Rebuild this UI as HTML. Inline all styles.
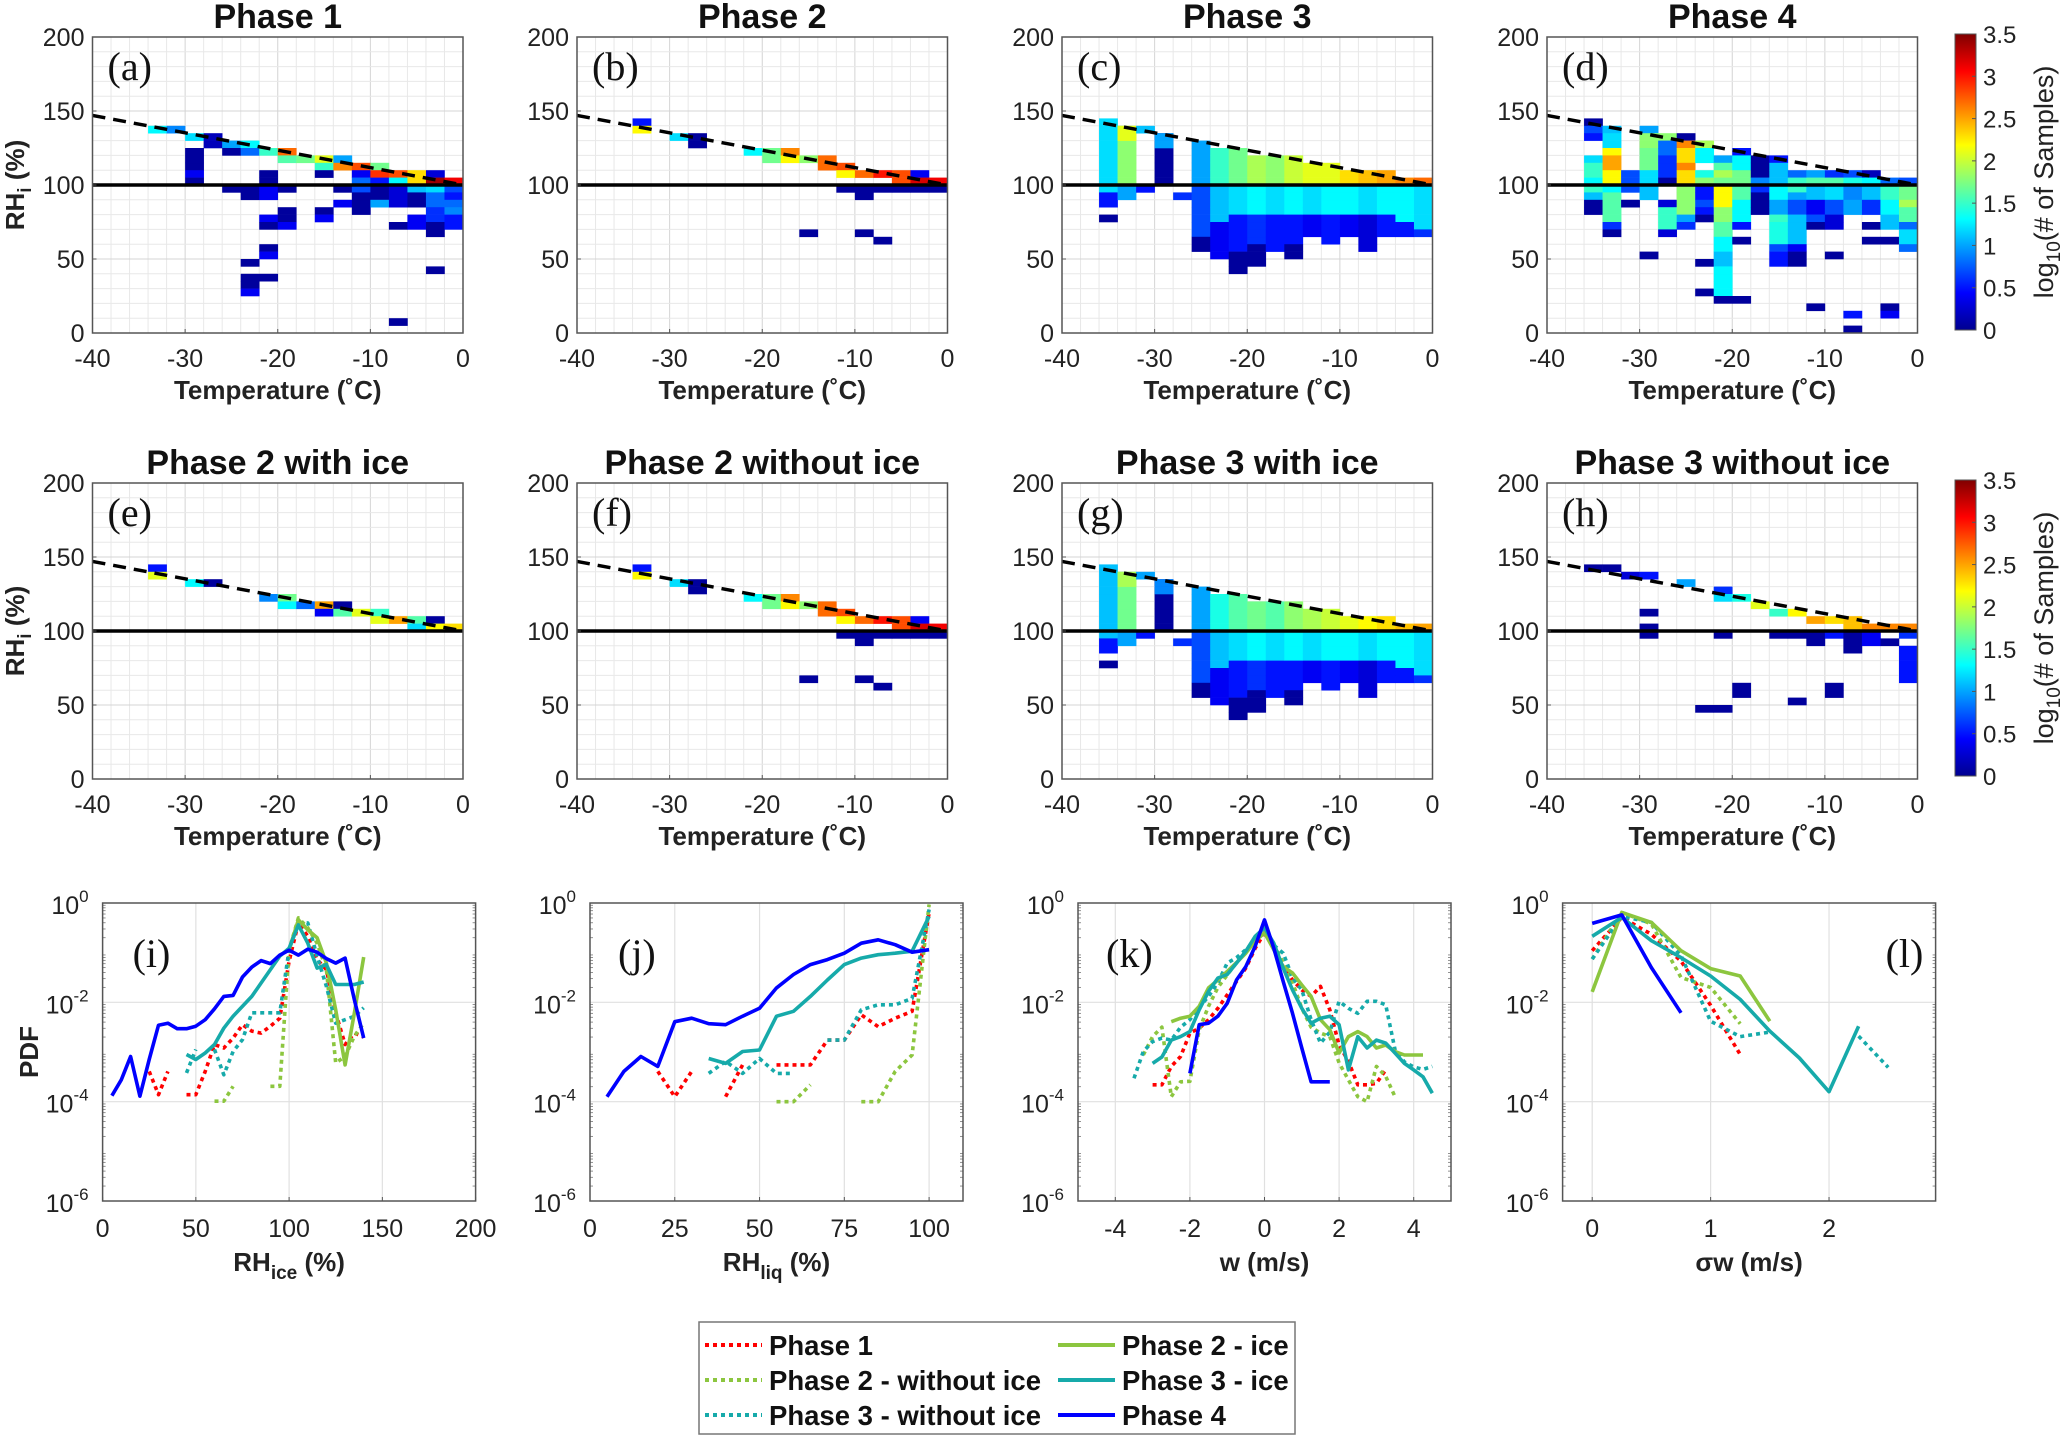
<!DOCTYPE html>
<html><head><meta charset="utf-8"><style>
html,body{margin:0;padding:0;background:#fff}
svg text{font-family:"Liberation Sans",Arial,sans-serif}
</style></head><body>
<svg id="fig" xmlns="http://www.w3.org/2000/svg" width="2067" height="1436" viewBox="0 0 2067 1436">
<defs>
<linearGradient id="jet" x1="0" y1="1" x2="0" y2="0">
<stop offset="0" stop-color="#00008f"/><stop offset="0.125" stop-color="#0000ff"/><stop offset="0.375" stop-color="#00ffff"/><stop offset="0.625" stop-color="#ffff00"/><stop offset="0.875" stop-color="#ff0000"/><stop offset="1" stop-color="#800000"/>
</linearGradient>
</defs>
</svg>
<script>
// ---- Heatmap data: runs [T_left(°C), RH_low, RH_high, log10 count] ----
const heatA=[[-34,135,140,1.3],[-32,135,140,0.9],[-30,130,135,1.2],[-30,110,125,0.1],[-30,105,110,0.4],[-30,100,105,0.1],[-28,125,135,0.2],[-26,125,130,1.0],[-26,120,125,0.1],[-26,95,100,0.1],[-24,125,130,1.3],[-24,120,125,0.8],[-24,90,100,0.1],[-24,45,50,0.1],[-24,30,40,0.1],[-24,25,30,0.4],[-22,120,125,1.5],[-22,100,110,0.1],[-22,90,100,0.4],[-22,75,80,0.4],[-22,70,75,0.1],[-22,55,60,0.1],[-22,50,55,0.4],[-22,35,40,0.1],[-20,120,125,2.7],[-20,115,120,1.6],[-20,95,100,0.1],[-20,75,85,0.1],[-20,70,75,0.4],[-18,115,120,1.7],[-16,115,120,2.1],[-16,110,115,1.5],[-16,105,110,0.1],[-16,80,85,0.1],[-16,75,80,0.4],[-14,115,120,1.0],[-14,110,115,2.6],[-14,95,100,0.1],[-14,85,90,0.4],[-12,110,115,2.8],[-12,105,110,0.4],[-12,100,105,0.8],[-12,95,100,0.7],[-12,80,95,0.1],[-10,110,115,1.7],[-10,105,110,2.9],[-10,100,105,0.5],[-10,90,100,0.1],[-10,85,90,1.0],[-8,105,110,2.8],[-8,100,105,1.3],[-8,85,100,0.3],[-8,70,75,0.1],[-8,5,10,0.1],[-6,100,110,2.3],[-6,95,100,1.1],[-6,85,95,0.1],[-6,70,80,0.4],[-4,105,110,0.3],[-4,100,105,3.4],[-4,95,100,1.2],[-4,85,95,0.8],[-4,75,85,0.6],[-4,65,75,0.1],[-4,40,45,0.1],[-2,100,105,3.1],[-2,95,100,0.7],[-2,90,95,0.5],[-2,85,90,0.8],[-2,80,85,0.9],[-2,70,80,0.5]];
const heatB=[[-34,140,145,0.5],[-34,135,140,2.2],[-30,130,135,1.2],[-28,130,135,0.1],[-28,125,130,0.1],[-22,120,125,1.3],[-20,115,125,1.7],[-18,120,125,2.6],[-18,115,120,2.2],[-16,115,120,1.8],[-16,65,70,0.1],[-14,110,120,2.7],[-12,110,115,2.8],[-12,105,110,2.2],[-12,95,100,0.1],[-10,105,110,2.7],[-10,90,100,0.1],[-10,65,70,0.1],[-8,105,110,3.0],[-8,95,100,0.1],[-8,60,65,0.1],[-6,100,110,2.8],[-6,95,100,0.1],[-4,105,110,0.4],[-4,100,105,3.2],[-4,95,100,0.1],[-2,100,105,3.1],[-2,95,100,0.1]];
const heatC=[[-36,95,145,1.2],[-36,85,95,0.5],[-36,75,80,0.1],[-34,90,100,1.0],[-34,100,140,1.8],[-34,130,140,2.1],[-32,135,140,1.1],[-32,95,100,0.5],[-30,100,135,0.1],[-30,125,135,1.0],[-28,90,95,0.6],[-26,100,130,1.0],[-26,65,100,0.7],[-26,55,65,0.1],[-24,100,125,1.5],[-24,75,100,1.1],[-24,50,75,0.4],[-22,100,125,1.7],[-22,80,100,1.2],[-22,55,80,0.5],[-22,40,55,0.1],[-20,100,120,1.9],[-20,80,100,1.3],[-20,60,80,0.6],[-20,45,60,0.1],[-18,100,120,1.8],[-18,80,100,1.2],[-18,55,80,0.5],[-16,100,120,2.0],[-16,80,100,1.3],[-16,60,80,0.5],[-16,50,60,0.1],[-14,100,115,2.1],[-14,80,100,1.2],[-14,65,80,0.4],[-12,100,115,2.1],[-12,80,100,1.3],[-12,60,80,0.5],[-10,100,110,2.3],[-10,80,100,1.3],[-10,65,80,0.4],[-8,100,110,2.4],[-8,80,100,1.2],[-8,55,80,0.3],[-6,100,110,2.5],[-6,80,100,1.3],[-6,65,80,0.5],[-4,100,105,2.6],[-4,75,100,1.3],[-4,65,75,0.5],[-2,100,105,2.7],[-2,70,100,1.2],[-2,65,70,0.6]];
const heatD=[[-36,140,145,0.1],[-36,135,140,0.7],[-36,130,135,0.5],[-36,115,120,1.2],[-36,105,115,1.5],[-36,100,105,1.3],[-36,95,100,1.5],[-36,90,95,1.1],[-36,80,90,0.1],[-34,135,140,1.1],[-34,125,135,1.2],[-34,120,125,2.2],[-34,110,120,2.5],[-34,100,110,2.2],[-34,95,100,1.3],[-34,75,95,1.6],[-34,70,75,0.6],[-34,65,70,0.1],[-32,95,110,0.7],[-32,85,90,0.1],[-30,135,140,1.0],[-30,125,135,1.8],[-30,110,125,1.7],[-30,100,110,1.2],[-30,90,100,1.1],[-30,50,55,0.1],[-28,130,135,1.8],[-28,120,130,0.8],[-28,105,120,0.6],[-28,100,105,0.1],[-28,85,90,0.3],[-28,70,85,1.5],[-28,65,70,0.3],[-26,130,135,0.1],[-26,125,130,2.6],[-26,115,125,2.3],[-26,110,115,2.6],[-26,100,110,2.3],[-26,80,100,1.8],[-26,75,80,1.0],[-26,70,75,0.6],[-24,125,130,1.9],[-24,115,125,1.3],[-24,105,110,1.4],[-24,100,105,1.8],[-24,90,100,0.5],[-24,85,90,0.7],[-24,80,85,0.5],[-24,75,80,0.1],[-24,45,50,0.1],[-24,25,30,0.1],[-22,115,120,1.0],[-22,110,115,1.6],[-22,105,110,1.9],[-22,100,105,1.7],[-22,85,100,2.2],[-22,75,85,1.8],[-22,65,75,1.6],[-22,55,65,1.3],[-22,45,55,1.1],[-22,25,45,1.3],[-22,20,25,0.1],[-20,120,125,0.5],[-20,110,120,1.3],[-20,100,110,1.7],[-20,90,100,1.6],[-20,75,90,1.3],[-20,70,75,0.5],[-20,60,65,0.1],[-20,20,25,0.1],[-18,105,120,0.1],[-18,100,105,0.9],[-18,95,100,0.6],[-18,80,95,0.1],[-16,115,120,0.5],[-16,100,115,1.1],[-16,90,100,1.3],[-16,80,90,1.0],[-16,75,80,1.5],[-16,60,75,1.4],[-16,55,60,0.7],[-16,45,55,0.5],[-14,105,110,0.8],[-14,95,105,1.5],[-14,90,95,1.0],[-14,80,90,0.7],[-14,60,80,1.1],[-14,55,60,0.4],[-14,45,55,0.1],[-12,105,110,1.0],[-12,100,105,1.6],[-12,90,100,1.1],[-12,80,90,0.4],[-12,75,80,0.7],[-12,70,75,0.1],[-12,15,20,0.1],[-10,105,110,0.6],[-10,100,105,1.6],[-10,90,100,1.2],[-10,80,90,0.7],[-10,70,80,0.3],[-10,50,55,0.1],[-8,105,110,0.7],[-8,100,105,1.4],[-8,90,100,0.9],[-8,80,90,1.0],[-8,10,15,0.5],[-8,0,5,0.1],[-6,105,110,0.2],[-6,100,105,1.3],[-6,90,100,1.1],[-6,80,90,0.6],[-6,70,75,0.1],[-6,60,65,0.1],[-4,100,105,0.8],[-4,90,100,1.5],[-4,80,90,1.3],[-4,70,80,1.1],[-4,60,65,0.1],[-4,15,20,0.1],[-4,10,15,0.4],[-2,100,105,0.7],[-2,90,100,1.7],[-2,85,90,1.9],[-2,75,85,1.6],[-2,70,75,0.8],[-2,60,70,1.2],[-2,55,60,0.8]];
const heatE=[[-34,140,145,0.5],[-34,135,140,2.1],[-30,130,135,1.3],[-28,130,135,0.1],[-22,120,125,0.9],[-20,120,125,1.7],[-20,115,120,1.3],[-18,115,120,0.8],[-16,115,120,2.5],[-16,110,115,0.4],[-14,115,120,0.1],[-14,110,115,1.6],[-12,110,115,2.1],[-10,110,115,1.5],[-10,105,110,2.1],[-8,105,110,2.5],[-6,105,110,1.6],[-6,100,105,1.2],[-4,105,110,0.1],[-4,100,105,2.2],[-2,100,105,2.3]];
const heatF=[[-34,140,145,0.5],[-34,135,140,2.2],[-30,130,135,1.2],[-28,130,135,0.1],[-28,125,130,0.1],[-22,120,125,1.3],[-20,115,125,1.7],[-18,120,125,2.6],[-18,115,120,2.2],[-16,115,120,1.8],[-16,65,70,0.1],[-14,110,120,2.7],[-12,110,115,2.8],[-12,105,110,2.2],[-12,95,100,0.1],[-10,105,110,2.7],[-10,90,100,0.1],[-10,65,70,0.1],[-8,105,110,3.0],[-8,95,100,0.1],[-8,60,65,0.1],[-6,100,110,2.8],[-6,95,100,0.1],[-4,105,110,0.4],[-4,100,105,3.2],[-4,95,100,0.1],[-2,100,105,3.1],[-2,95,100,0.1]];
const heatG=[[-36,95,145,1.1],[-36,85,95,0.5],[-36,75,80,0.1],[-34,90,100,1.0],[-34,100,140,1.7],[-34,130,140,1.9],[-32,135,140,1.0],[-32,95,100,0.5],[-30,100,135,0.1],[-30,125,135,0.9],[-28,90,95,0.6],[-26,100,130,1.0],[-26,65,100,0.7],[-26,55,65,0.1],[-24,100,125,1.4],[-24,75,100,1.1],[-24,50,75,0.4],[-22,100,125,1.6],[-22,80,100,1.2],[-22,55,80,0.5],[-22,40,55,0.1],[-20,100,120,1.7],[-20,80,100,1.3],[-20,60,80,0.6],[-20,45,60,0.1],[-18,100,120,1.6],[-18,80,100,1.2],[-18,55,80,0.5],[-16,100,120,1.8],[-16,80,100,1.3],[-16,60,80,0.5],[-16,50,60,0.1],[-14,100,115,1.9],[-14,80,100,1.2],[-14,65,80,0.4],[-12,100,115,2.0],[-12,80,100,1.3],[-12,60,80,0.5],[-10,100,110,2.1],[-10,80,100,1.3],[-10,65,80,0.4],[-8,100,110,2.2],[-8,80,100,1.2],[-8,55,80,0.3],[-6,100,110,2.3],[-6,80,100,1.3],[-6,65,80,0.5],[-4,100,105,2.4],[-4,75,100,1.3],[-4,65,75,0.5],[-2,100,105,2.5],[-2,70,100,1.2],[-2,65,70,0.6]];
const heatH=[[-36,140,145,0.1],[-34,140,145,0.1],[-32,135,140,0.3],[-30,135,140,0.5],[-30,110,115,0.1],[-30,100,105,0.1],[-30,95,100,0.1],[-26,130,135,1.0],[-22,125,130,0.6],[-22,120,125,1.2],[-22,95,100,0.1],[-24,45,50,0.1],[-22,45,50,0.1],[-20,120,125,1.4],[-20,55,65,0.1],[-18,115,120,2.1],[-16,110,115,1.5],[-16,95,100,0.1],[-14,110,115,2.2],[-14,95,100,0.1],[-14,50,55,0.1],[-12,105,110,2.5],[-12,90,100,0.1],[-10,105,110,2.3],[-10,95,100,0.5],[-10,55,65,0.1],[-8,100,110,2.4],[-8,85,100,0.1],[-6,100,105,2.6],[-6,90,100,0.4],[-4,100,105,2.6],[-4,90,95,0.1],[-2,100,105,2.6],[-2,95,100,0.6],[-2,65,90,0.5]];
const heatTitles=["Phase 1","Phase 2","Phase 3","Phase 4","Phase 2 with ice","Phase 2 without ice","Phase 3 with ice","Phase 3 without ice"];
const heatLetters=["(a)","(b)","(c)","(d)","(e)","(f)","(g)","(h)"];
const heatXTicks=[-40,-30,-20,-10,0];
const heatYTicks=[0,50,100,150,200];
const cbTicks=[0,0.5,1,1.5,2,2.5,3,3.5];

// ---- PDF data (log10 PDF; null = gap) ----
const iX=[5,10,15,20,25,30,35,40,45,50,55,60,65,70,75,80,85,90,95,100,105,110,115,120,125,130,135,140];
const iP4=[-3.88,-3.56,-3.09,-3.89,-3.15,-2.46,-2.42,-2.53,-2.53,-2.48,-2.35,-2.13,-1.88,-1.86,-1.49,-1.29,-1.16,-1.22,-1.05,-0.95,-1.05,-0.93,-0.99,-1.12,-1.21,-1.11,-1.95,-2.72];
const iP3ice=[null,null,null,null,null,null,null,null,-3.05,-3.15,-3.02,-2.85,-2.52,-2.28,-2.08,-1.88,-1.61,-1.34,-1.07,-0.91,-0.44,-0.81,-1.31,-1.24,-1.64,-1.64,-1.64,-1.59];
const iP2ice=[null,null,null,null,null,null,null,null,null,null,null,null,null,null,null,null,null,null,null,-0.94,-0.34,-0.54,-0.70,-1.21,-2.15,-3.26,-2.21,-1.09];
const iP1=[null,null,null,null,-3.39,-3.86,-3.39,null,-3.86,-3.86,-3.39,-2.85,-2.92,-2.72,-2.45,-2.58,-2.62,-2.48,-2.32,-1.17,-0.40,-0.67,-1.14,-1.34,-2.21,-2.85,-2.62,-2.70];
const iP2no=[null,null,null,null,null,null,null,null,null,null,null,-3.99,-3.99,-3.69,null,null,null,-3.69,-3.69,-0.94,-0.30,-0.50,-0.81,-1.34,-3.22,-3.09,-2.68,-2.42];
const iP3no=[null,null,null,null,null,null,null,null,-3.42,-2.95,null,-2.95,-3.46,-2.99,-2.75,-2.21,-2.21,-2.21,-2.21,-0.94,-0.40,-0.40,-1.07,-1.68,-2.42,-2.35,-2.28,-2.11];
const jX=[5,10,15,20,25,30,35,40,45,50,55,60,65,70,75,80,85,90,95,100];
const jP4=[-3.9,-3.39,-3.09,-3.29,-2.39,-2.32,-2.43,-2.45,-2.28,-2.12,-1.71,-1.44,-1.24,-1.14,-1.01,-0.81,-0.74,-0.84,-0.99,-0.94];
const jP3ice=[null,null,null,null,null,null,-3.13,-3.23,-2.99,-2.96,-2.28,-2.18,-1.88,-1.55,-1.24,-1.11,-1.04,-1.01,-0.97,-0.27];
const jP2ice=[null,null,null,null,null,null,null,null,null,null,null,null,null,null,null,null,null,null,null,null];
const jP1=[null,null,null,-3.39,-3.9,-3.39,null,-3.9,-3.26,null,-3.26,-3.26,-3.26,-2.76,-2.76,-2.25,-2.49,-2.32,-2.18,-0.2];
const jP2no=[null,null,null,null,null,null,null,null,null,null,-4.0,-4.0,-3.66,null,null,-4.0,-4.0,-3.39,-3.06,-0.03];
const jP3no=[null,null,null,null,null,null,-3.43,-3.19,-3.43,-3.13,-3.43,-3.43,null,-2.76,-2.76,-2.15,-2.05,-2.05,-1.92,-0.13];
const kX=[-3.75,-3.5,-3.25,-3,-2.75,-2.5,-2.25,-2,-1.75,-1.5,-1.25,-1,-0.75,-0.5,-0.25,0,0.25,0.5,0.75,1,1.25,1.5,1.75,2,2.25,2.5,2.75,3,3.25,3.5,3.75,4,4.25,4.5];
const kP4=[null,null,null,null,null,null,null,-3.43,-2.45,-2.42,-2.28,-2.02,-1.55,-1.28,-0.87,-0.34,-0.91,-1.58,-2.22,-2.92,-3.6,-3.6,-3.6,null,null,null,null,null,null,null,null,null,null,null];
const kP3ice=[null,null,null,-3.23,-3.1,-2.76,-2.69,-2.59,-2.15,-1.78,-1.51,-1.44,-1.21,-0.97,-0.67,-0.50,-0.81,-1.31,-1.75,-2.12,-2.42,-2.32,-2.28,-2.45,-3.36,-2.69,-2.92,-2.76,-2.82,-3.02,-3.23,-3.36,-3.5,-3.83];
const kP2ice=[null,null,null,null,null,-2.39,-2.32,-2.28,-2.08,-1.71,-1.55,-1.38,-1.2,-1.01,-0.77,-0.6,-0.94,-1.28,-1.41,-1.65,-1.88,-2.35,-2.55,-3.02,-2.69,-2.59,-2.69,-2.92,-2.86,-2.99,-3.06,-3.06,-3.06,null];
const kP1=[null,null,null,-3.66,-3.66,-3.29,-3.09,-2.62,-2.52,-2.35,-2.12,-1.85,-1.58,-1.31,-0.91,-0.6,-0.91,-1.28,-1.55,-1.75,-1.88,-1.68,-2.15,-2.86,-3.19,-3.66,-3.66,-3.63,-3.36,null,null,null,null,null];
const kP2no=[-3.86,null,-3.06,-2.69,-2.5,-3.9,-3.6,-3.59,-2.55,-2.08,-1.7,-1.45,-1.2,-0.95,-0.75,-0.55,-0.85,-1.2,-1.6,-2.12,-2.5,-2.62,-2.69,-3.22,-3.56,-3.9,-4.0,-3.29,-3.49,-3.9,null,null,null,null];
const kP3no=[null,-3.53,-2.99,-2.79,-2.72,-2.76,-2.5,-2.35,-2.1,-1.88,-1.6,-1.21,-1.1,-0.94,-0.75,-0.47,-0.85,-1.01,-1.5,-1.75,-2.35,-2.82,-2.6,-1.98,-2.12,-2.22,-1.98,-1.98,-2.05,-2.95,-3.2,-3.3,-3.35,-3.29];
const lX=[0,0.25,0.5,0.75,1,1.25,1.5,1.75,2,2.25,2.5];
const lP4=[-0.41,-0.24,-1.30,-2.21,null,null,null,null,null,null,null];
const lP3ice=[-0.67,-0.29,-0.76,-1.10,-1.47,-1.94,-2.58,-3.12,-3.80,-2.48,null];
const lP2ice=[-1.79,-0.19,-0.39,-0.96,-1.32,-1.47,-2.38,null,null,null,null];
const lP1=[-0.96,-0.29,-0.63,-1.17,-2.06,-3.05,null,null,null,null,null];
const lP2no=[-1.13,-0.19,-0.42,-1.50,-1.70,-2.43,null,null,null,null,null];
const lP3no=[-1.13,-0.27,-0.39,-1.06,-2.38,-2.69,-2.60,null,null,-2.68,-3.31];

const NS="http://www.w3.org/2000/svg";
const svg=document.getElementById('fig');
function mk(tag,attrs,parent){const e=document.createElementNS(NS,tag);for(const k in attrs)e.setAttribute(k,attrs[k]);(parent||svg).appendChild(e);return e;}
function jet(v){let t=Math.max(0,Math.min(1,v/3.5));const f=x=>Math.max(0,Math.min(1,x));
 const r=f(Math.min(4*t-1.5,-4*t+4.5)),g=f(Math.min(4*t-0.5,-4*t+3.5)),b=f(Math.min(4*t+0.5,-4*t+2.5));
 return `rgb(${Math.round(r*255)},${Math.round(g*255)},${Math.round(b*255)})`;}

const heatLefts=[92.5,577,1062,1547], heatTops=[37,483], HW=370.5, HH=296;
const heatData=[heatA,heatB,heatC,heatD,heatE,heatF,heatG,heatH];
for(let p=0;p<8;p++){
 const L=heatLefts[p%4], T=heatTops[Math.floor(p/4)];
 const sx=t=>L+(t+40)/40*HW, sy=r=>T+HH-r/200*HH;
 const g=mk('g',{});
 
 
 for(let t=-38;t<0;t+=2){mk('line',{x1:sx(t),x2:sx(t),y1:T,y2:T+HH,stroke:t%10===0?'#d4d4d4':'#e8e8e8','stroke-width':1},g);}
 for(let r=10;r<200;r+=10){mk('line',{x1:L,x2:L+HW,y1:sy(r),y2:sy(r),stroke:r%50===0?'#d4d4d4':'#e8e8e8','stroke-width':1},g);}
 for(const c of heatData[p]){
  for(let r=c[1];r<c[2];r+=5){
   const rc=mk('rect',{x:sx(c[0]),y:sy(r+5),width:sx(c[0]+2)-sx(c[0])+0.3,height:sy(r)-sy(r+5)+0.3,fill:jet(c[3])},g);
   
   
  }
 }
 const s=mk('line',{x1:L,x2:L+HW,y1:sy(100),y2:sy(100),stroke:'#000','stroke-width':3.5},g);
 
 const d=mk('line',{x1:sx(-40),y1:sy(147),x2:sx(0),y2:sy(100),stroke:'#000','stroke-width':3.5,'stroke-dasharray':'13,8'},g);
 
 mk('rect',{x:L,y:T,width:HW,height:HH,fill:'none',stroke:'#555','stroke-width':1.5},g);
 for(const t of heatXTicks){mk('line',{x1:sx(t),x2:sx(t),y1:T+HH,y2:T+HH-4,stroke:'#555'},g);
  const tx=mk('text',{x:sx(t),y:T+HH+34,'text-anchor':'middle','font-size':25,fill:'#222'},g);tx.textContent=t;
  }
 for(const r of heatYTicks){mk('line',{x1:L,x2:L+4,y1:sy(r),y2:sy(r),stroke:'#555'},g);
  const tx=mk('text',{x:L-8,y:sy(r)+9,'text-anchor':'end','font-size':25,fill:'#222'},g);tx.textContent=r;
  }
 const xl=mk('text',{x:L+HW/2,y:T+HH+66,'text-anchor':'middle','font-size':26,'font-weight':'bold',fill:'#222'},g);
 xl.textContent='Temperature (˚C)';
 const ti=mk('text',{x:L+HW/2,y:T-9,'text-anchor':'middle','font-size':34,'font-weight':'bold',fill:'#111'},g);
 ti.textContent=heatTitles[p];
 const lt=mk('text',{x:L+15,y:T+43,'font-size':40,fill:'#111'},g);
 lt.setAttribute('style','font-family:"Liberation Serif",serif');lt.textContent=heatLetters[p];
 
 if(p%4===0){const yl=mk('text',{transform:`translate(24,${T+HH/2}) rotate(-90)`,'text-anchor':'middle','font-size':26,'font-weight':'bold',fill:'#222'},g);
  yl.innerHTML='RH<tspan dy="7" font-size="19">i</tspan><tspan dy="-7"> (%)</tspan>';
  }
}
for(const T of [37,483]){
 const g=mk('g',{});
 
 mk('rect',{x:1955,y:T-3,width:21,height:HH,fill:'url(#jet)',stroke:'#555','stroke-width':1},g);
 for(const v of cbTicks){const y=T-3+HH-v/3.5*HH;mk('line',{x1:1976,x2:1972,y1:y,y2:y,stroke:'#555'},g);
  const tx=mk('text',{x:1983,y:y+9,'font-size':24,fill:'#222'},g);tx.textContent=v;
  }
 const lb=mk('text',{transform:`translate(2053,${T+HH/2-3}) rotate(-90)`,'text-anchor':'middle','font-size':27,fill:'#222'},g);
 lb.innerHTML='log<tspan dy="7" font-size="19">10</tspan><tspan dy="-7">(# of Samples)</tspan>';
 
}

const pdfLefts=[102.6,590,1078,1562.6], PT=903, PW=373, PH=298;
const pdfXlim=[[0,200],[0,110],[-5,5],[-0.25,2.9]];
const pdfXTicks=[[0,50,100,150,200],[0,25,50,75,100],[-4,-2,0,2,4],[0,1,2]];
const pdfXLabels=['RH<tspan dy="8" font-size="19">ice</tspan><tspan dy="-8"> (%)</tspan>','RH<tspan dy="8" font-size="19">liq</tspan><tspan dy="-8"> (%)</tspan>','w (m/s)','σw (m/s)'];
const pdfLetters=['(i)','(j)','(k)','(l)'];
const pdfX=[iX,jX,kX,lX];
const pdfSeries=[[iP1,iP2no,iP3no,iP2ice,iP3ice,iP4],[jP1,jP2no,jP3no,jP2ice,jP3ice,jP4],[kP1,kP2no,kP3no,kP2ice,kP3ice,kP4],[lP1,lP2no,lP3no,lP2ice,lP3ice,lP4]];
const serColors=['#ff0000','#8cc63f','#16aaaa','#8cc63f','#16aaaa','#0000ff'];
const serDash=[true,true,true,false,false,false];
const serNames=['Phase 1','Phase 2 - without ice','Phase 3 - without ice','Phase 2 - ice','Phase 3 - ice','Phase 4'];
const pdfYTicks=[0,-2,-4,-6];
for(let p=0;p<4;p++){
 const L=pdfLefts[p],[x0,x1]=pdfXlim[p];
 const sx=x=>L+(x-x0)/(x1-x0)*PW, sy=v=>PT+(-v)/6*PH;
 const g=mk('g',{});
 
 for(const t of pdfXTicks[p]){mk('line',{x1:sx(t),x2:sx(t),y1:PT,y2:PT+PH,stroke:'#e0e0e0','stroke-width':1.2},g);}
 for(const v of [-2,-4]){mk('line',{x1:L,x2:L+PW,y1:sy(v),y2:sy(v),stroke:'#e0e0e0','stroke-width':1.2},g);}
 for(let dec=-6;dec<0;dec++){for(let m=2;m<10;m++){const y=sy(dec+Math.log10(m));
  mk('line',{x1:L,x2:L+3,y1:y,y2:y,stroke:'#777','stroke-width':0.8},g);mk('line',{x1:L+PW,x2:L+PW-3,y1:y,y2:y,stroke:'#777','stroke-width':0.8},g);}}
 for(let s=0;s<6;s++){
  const ys=pdfSeries[p][s], xs=pdfX[p]; let d='', pen=false;
  for(let i=0;i<xs.length;i++){ if(ys[i]===null||ys[i]===undefined){pen=false;continue;}
   d+=(pen?'L':'M')+sx(xs[i]).toFixed(1)+','+sy(ys[i]).toFixed(1); pen=true; }
  if(!d)continue;
  const a={d:d,fill:'none',stroke:serColors[s],'stroke-width':3.6,'stroke-linejoin':'round'};
  if(serDash[s]){a['stroke-dasharray']='4,4';}
  const path=mk('path',a,g);
  
  
 }
 mk('rect',{x:L,y:PT,width:PW,height:PH,fill:'none',stroke:'#555','stroke-width':1.5},g);
 for(const t of pdfXTicks[p]){mk('line',{x1:sx(t),x2:sx(t),y1:PT+PH,y2:PT+PH-4,stroke:'#555'},g);
  const tx=mk('text',{x:sx(t),y:PT+PH+36,'text-anchor':'middle','font-size':25,fill:'#222'},g);tx.textContent=t;
  }
 for(const v of pdfYTicks){const tx=mk('text',{x:L-14,y:sy(v)+11,'text-anchor':'end','font-size':25,fill:'#222'},g);
  tx.innerHTML='10<tspan dy="-12" font-size="17">'+v+'</tspan>';
  }
 const xl=mk('text',{x:L+PW/2,y:PT+PH+70,'text-anchor':'middle','font-size':26,'font-weight':'bold',fill:'#222'},g);
 xl.innerHTML=pdfXLabels[p];
 const lx=p===3?L+PW-50:L+(p===0?30:28);
 const lt=mk('text',{x:lx,y:PT+64,'font-size':40,fill:'#111'},g);
 lt.setAttribute('style','font-family:"Liberation Serif",serif');lt.textContent=pdfLetters[p];
 
}
const pl=mk('text',{transform:`translate(38,${PT+PH/2}) rotate(-90)`,'text-anchor':'middle','font-size':26,'font-weight':'bold',fill:'#222'});
pl.textContent='PDF';

const lg=mk('g',{});

mk('rect',{x:699,y:1322,width:596,height:112,fill:'#fff',stroke:'#777','stroke-width':1.5},lg);
const legPos=[[705,1345],[705,1380],[705,1415],[1058,1345],[1058,1380],[1058,1415]];
for(let s=0;s<6;s++){
 const [x,y]=legPos[s];
 const e=mk('g',{},lg);
 
 const a={x1:x,x2:x+57,y1:y,y2:y,stroke:serColors[s],'stroke-width':4};
 if(serDash[s])a['stroke-dasharray']='4,4';
 mk('line',a,e);
 const t=mk('text',{x:x+64,y:y+10,'font-size':27.5,'font-weight':'bold',fill:'#111'},e);t.textContent=serNames[s];
}
</script>
</body></html>
